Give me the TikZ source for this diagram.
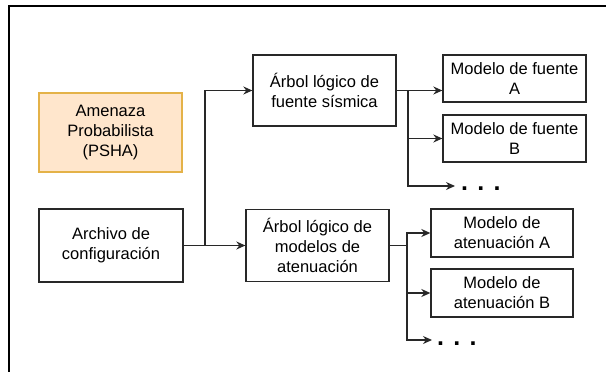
\documentclass[tikz,border=0pt]{standalone}
\usepackage{fontspec}
\setmainfont{Liberation Sans}
\usetikzlibrary{arrows.meta}
\definecolor{psfill}{HTML}{FFE6CC}
\definecolor{psdraw}{RGB}{228,178,72}
\definecolor{boxline}{RGB}{40,40,40}
\begin{document}
\begin{tikzpicture}[x=1pt,y=-1pt,
  box/.style={draw=boxline,line width=1.3pt,fill=white,rectangle,inner sep=0pt,align=center,
    font=\fontsize{16.5}{20}\selectfont},
  conn/.style={draw=boxline,line width=1.3pt},
  arr/.style={conn,-{Stealth[length=9pt,width=8pt]}},
  dotstyle/.style={font=\fontsize{25}{25}\selectfont\bfseries,inner sep=0pt,anchor=base west}]
\useasboundingbox (0,0) rectangle (606,372);
\draw[line width=2pt] (606,6) -- (9,6) -- (9,372);

\node[box,draw=psdraw,fill=psfill,minimum width=143pt,minimum height=79pt] (amenaza) at (110.5,132.5) {Amenaza\\Probabilista\\(PSHA)};
\node[box,minimum width=144pt,minimum height=73pt] (archivo) at (111,245.5) {Archivo de\\configuración};
\node[box,minimum width=143pt,minimum height=71pt] (arbolF) at (324.5,90.5) {Árbol lógico de\\fuente sísmica};
\node[box,minimum width=143pt,minimum height=72pt] (arbolA) at (317.5,245.5) {Árbol lógico de\\modelos de\\atenuación};
\node[box,minimum width=143pt,minimum height=47pt] (fA) at (514.5,78.5) {Modelo de fuente\\A};
\node[box,minimum width=143pt,minimum height=47pt] (fB) at (514.5,138.5) {Modelo de fuente\\B};
\node[box,minimum width=142pt,minimum height=48pt] (aA) at (502,233) {Modelo de\\atenuación A};
\node[box,minimum width=142pt,minimum height=48pt] (aB) at (502,293) {Modelo de\\atenuación B};

\coordinate (d1) at (455,186);
\coordinate (d2) at (432,340);
\node[dotstyle] (dots1) at (461,190.5) {. . .};
\node[dotstyle] (dots2) at (437,345.5) {. . .};

\coordinate (j1) at (205,245.5);
\coordinate (b1) at (408,90.5);
\coordinate (b2) at (407,245.5);

\draw[arr] (archivo.east) -- (archivo.east -| arbolA.west);
\draw[arr] (j1) |- (arbolF.west);
\draw[arr] (arbolF.east) -- (arbolF.east -| fA.west);
\draw[arr] (b1) |- (fB.west);
\draw[arr] (b1) |- (d1);
\draw[conn] (arbolA.east) -- (b2);
\draw[arr] (b2) |- (aA.west);
\draw[arr] (b2) |- (aB.west);
\draw[arr] (b2) |- (d2);
\end{tikzpicture}
\end{document}
